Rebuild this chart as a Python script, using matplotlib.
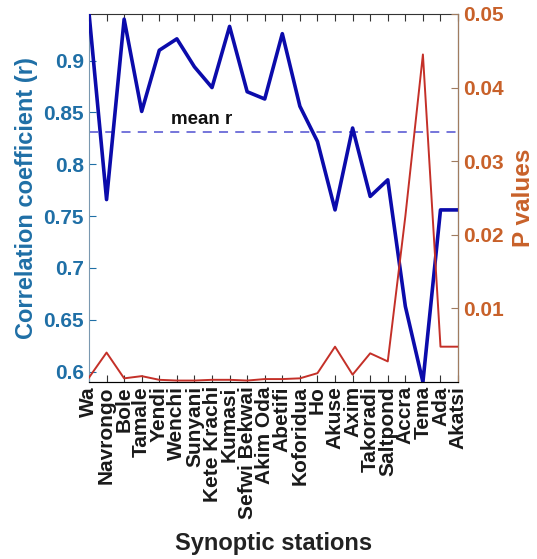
import matplotlib
matplotlib.use("Agg")
import matplotlib.pyplot as plt
import numpy as np

stations = ["Wa", "Navrongo", "Bole", "Tamale", "Yendi", "Wenchi", "Sunyani",
            "Kete Krachi", "Kumasi", "Sefwi Bekwai", "Akim Oda", "Abetifi",
            "Koforidua", "Ho", "Akuse", "Axim", "Takoradi", "Saltpond",
            "Accra", "Tema", "Ada", "Akatsi"]
r_values = [0.946, 0.766, 0.940, 0.851, 0.910, 0.921, 0.894, 0.874, 0.933,
            0.870, 0.863, 0.926, 0.856, 0.822, 0.756, 0.835, 0.769, 0.785,
            0.663, 0.590, 0.756, 0.756]
p_values = [0.0006, 0.0040, 0.0005, 0.0008, 0.0003, 0.0002, 0.0002, 0.0003,
            0.0003, 0.0002, 0.0004, 0.0004, 0.0005, 0.0012, 0.0048, 0.0010,
            0.0039, 0.0028, 0.0225, 0.0445, 0.0048, 0.0048]
mean_r = 0.831
r_ticks = [0.6, 0.65, 0.7, 0.75, 0.8, 0.85, 0.9]
p_ticks = [0.01, 0.02, 0.03, 0.04, 0.05]

plt.rcParams['font.family'] = ['Liberation Sans', 'DejaVu Sans']

left_col = '#1f6fa6'
right_col = '#c8612a'

fig = plt.figure(figsize=(5.37, 5.59), dpi=100)
ax = fig.add_axes([0.1657, 0.3166, 0.853 - 0.1657, 0.975 - 0.3166])
x = np.arange(len(stations))

ax.plot(x, r_values, color='#0b0bab', lw=2.6, zorder=3, clip_on=True)
ax.axhline(mean_r, color='#6a6ad8', lw=1.3, dashes=(5, 4), zorder=2)
ax.text(4.67, mean_r + 0.004, "mean r", fontsize=13.5, fontweight='bold',
        color='#111111', ha='left', va='bottom')

ax.set_xlim(0, len(stations) - 1)
ax.set_ylim(0.59, 0.945)
ax.set_yticks(r_ticks)
ax.set_yticklabels([f"{t:g}" for t in r_ticks])
ax.set_xticks(x)
ax.set_xticklabels(stations, rotation=90, fontsize=15, fontweight='bold',
                   color='#1a1a1a')
ax.tick_params(axis='y', direction='in', colors=left_col, labelsize=15,
               length=5, width=0.8)
for lab in ax.get_yticklabels():
    lab.set_fontweight('bold')
ax.tick_params(axis='x', direction='in', top=True, length=5, width=0.8,
               colors='#333333', labelcolor='#1a1a1a', pad=3)
ax.set_ylabel("Correlation coefficient (r)", color=left_col, fontsize=17,
              fontweight='bold', labelpad=4)
ax.set_xlabel("Synoptic stations", fontsize=17, fontweight='bold',
              color='#222222', labelpad=9)
ax.spines['left'].set_color('#7a98b0')
ax.spines['top'].set_color('#333333')
ax.spines['bottom'].set_color('#333333')

ax2 = ax.twinx()
ax2.plot(x, p_values, color='#c43028', lw=1.4, zorder=3)
ax2.set_ylim(0, 0.05)
ax2.set_yticks(p_ticks)
ax2.set_yticklabels([f"{t:g}" for t in p_ticks])
ax2.tick_params(axis='y', direction='in', colors='#a07c60', labelcolor=right_col,
                labelsize=15, length=5, width=0.8)
for lab in ax2.get_yticklabels():
    lab.set_fontweight('bold')
ax2.set_ylabel("P values", color=right_col, fontsize=17.5, fontweight='bold',
               labelpad=6)
ax2.spines['right'].set_color('#a07c60')
ax2.spines['left'].set_visible(False)
ax2.spines['top'].set_visible(False)

fig.savefig("out.png", dpi=100)
